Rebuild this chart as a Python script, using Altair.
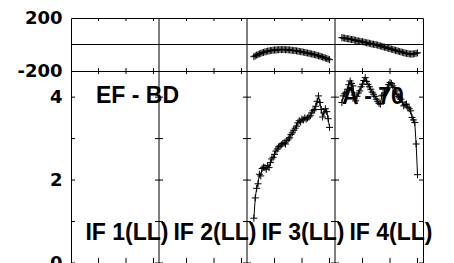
import altair as alt
import pandas as pd

# ---- data ----
IF_LABELS = ["IF 1(LL)", "IF 2(LL)", "IF 3(LL)", "IF 4(LL)"]
N_CHAN = 64
CHANNELS = list(range(5, 61))          # channels with data (56)
BASELINE = "EF - BD"
SOURCE = "A - 70"

IF3_AMP = [1.08, 1.57, 1.80, 1.91, 2.14, 2.10, 2.28, 2.31, 2.30, 2.26,
           2.35, 2.30, 2.42, 2.51, 2.55, 2.62, 2.70, 2.75, 2.80, 2.82,
           2.85, 2.88, 2.90, 2.87, 2.95, 2.99, 3.02, 3.10, 3.14, 3.20,
           3.25, 3.30, 3.38, 3.43, 3.40, 3.47, 3.45, 3.50, 3.47, 3.50,
           3.52, 3.55, 3.62, 3.67, 3.70, 3.78, 3.90, 4.03, 3.87, 3.70,
           3.52, 3.62, 3.72, 3.65, 3.48, 3.27]
IF4_AMP = [3.87, 4.03, 4.08, 4.12, 4.19, 4.30, 4.39, 4.33, 4.27, 4.05,
           3.91, 4.02, 4.10, 4.15, 4.25, 4.31, 4.40, 4.47, 4.38, 4.31,
           4.25, 4.19, 4.12, 4.07, 4.02, 3.95, 3.90, 3.85, 3.83, 4.03,
           4.05, 4.10, 4.15, 4.22, 4.30, 4.35, 4.33, 4.27, 4.23, 4.15,
           4.07, 4.02, 3.98, 3.95, 3.88, 3.79, 3.82, 3.83, 3.76, 3.72,
           3.67, 3.51, 3.45, 3.39, 2.87, 2.13]
IF3_PHASE = [-92, -86, -80, -76, -70, -67, -62, -60, -56, -54,
             -50, -49, -46, -45, -43, -41, -42, -39, -40, -37,
             -39, -38, -37, -40, -39, -41, -40, -43, -44, -46,
             -45, -48, -50, -52, -54, -55, -58, -60, -62, -64,
             -66, -69, -71, -74, -76, -79, -82, -85, -88, -91,
             -95, -98, -102, -106, -110, -115]
IF4_PHASE = [52, 50, 48, 45, 44, 42, 40, 38, 37, 34,
             31, 29, 27, 25, 22, 21, 18, 16, 13, 11,
             9, 6, 3, 2, 0, -2, -5, -8, -11, -14,
             -17, -20, -23, -26, -29, -32, -35, -38, -41, -44,
             -47, -50, -53, -56, -59, -62, -65, -67, -69, -71,
             -72, -72, -71, -69, -66, -63]

PHASE_DOMAIN = [-200, 200]
PHASE_LABELS = [-200, 200]
AMP_DOMAIN = [0, 4.63]
AMP_LABELS = [0, 2, 4]
AMP_TICKS = [0, 1, 2, 3, 4]
CHAN_TICKS = [20, 40, 60]

# ---- tables built from the arrays ----
rows = []
for k, amp, ph in [(2, IF3_AMP, IF3_PHASE), (3, IF4_AMP, IF4_PHASE)]:
    for c, a, p in zip(CHANNELS, amp, ph):
        rows.append({"x": k * N_CHAN + c, "amp": a, "phase": p, "band": IF_LABELS[k]})
df = pd.DataFrame(rows)

n_if = len(IF_LABELS)
dividers = pd.DataFrame({"bx": [k * N_CHAN for k in range(1, n_if)]})
xticks = pd.DataFrame({"tx": [k * N_CHAN + t for k in range(n_if) for t in CHAN_TICKS]})
left_ticks = pd.DataFrame([{"bx": k * N_CHAN, "v": v} for k in range(n_if) for v in AMP_TICKS])
right_ticks = pd.DataFrame([{"bx": (k + 1) * N_CHAN, "v": v} for k in range(n_if) for v in AMP_TICKS])
labels_df = pd.DataFrame({"cx": [k * N_CHAN + N_CHAN / 2 for k in range(n_if)], "label": IF_LABELS})

W = 352
H_TOP = 53
H_BOT = 192

xscale = alt.Scale(domain=[0, n_if * N_CHAN], nice=False, zero=False)
X = alt.X("x:Q", scale=xscale, axis=None)

CROSS = "M-1,0L1,0M0,-1L0,1"

def yaxis(vals):
    return alt.Axis(values=vals, ticks=False, tickSize=0, domain=False, grid=False,
                    labelExpr="'' + datum.value",
                    labelFont="DejaVu Sans", labelFontWeight="bold", labelFontSize=18,
                    labelColor="black", labelPadding=9, labelFlush=False, title=None)

# ---- top panel: phase ----
ys_top = alt.Scale(domain=PHASE_DOMAIN, nice=False, zero=False)
base_top = alt.Chart(df)
top_line = base_top.mark_line(color="black", strokeWidth=1).encode(
    x=X, y=alt.Y("phase:Q", scale=ys_top, axis=yaxis(PHASE_LABELS)), detail="band:N")
top_pts = base_top.mark_point(shape=CROSS, size=49, filled=False, stroke="black",
                              strokeWidth=1, opacity=1).encode(
    x=X, y=alt.Y("phase:Q", scale=ys_top))
zero_rule = alt.Chart(pd.DataFrame({"z": [0]})).mark_rule(color="black", strokeWidth=1).encode(
    y=alt.Y("z:Q", scale=ys_top))
top_div = alt.Chart(dividers).mark_rule(color="black", strokeWidth=1).encode(
    x=alt.X("bx:Q", scale=xscale, axis=None))
top_t1 = alt.Chart(xticks).mark_rule(color="black", strokeWidth=1).encode(
    x=alt.X("tx:Q", scale=xscale, axis=None), y=alt.value(0), y2=alt.value(3))
top_t2 = alt.Chart(xticks).mark_rule(color="black", strokeWidth=1).encode(
    x=alt.X("tx:Q", scale=xscale, axis=None), y=alt.value(H_TOP), y2=alt.value(H_TOP - 3))

top = alt.layer(zero_rule, top_div, top_t1, top_t2, top_line, top_pts).properties(
    width=W, height=H_TOP)

# ---- bottom panel: amplitude ----
ys_bot = alt.Scale(domain=AMP_DOMAIN, nice=False, zero=False)
base_bot = alt.Chart(df)
bot_line = base_bot.mark_line(color="black", strokeWidth=1).encode(
    x=X, y=alt.Y("amp:Q", scale=ys_bot, axis=yaxis(AMP_LABELS)), detail="band:N")
bot_pts = base_bot.mark_point(shape=CROSS, size=49, filled=False, stroke="black",
                              strokeWidth=1, opacity=1).encode(
    x=X, y=alt.Y("amp:Q", scale=ys_bot))
bot_div = alt.Chart(dividers).mark_rule(color="black", strokeWidth=1).encode(
    x=alt.X("bx:Q", scale=xscale, axis=None))
bot_t1 = alt.Chart(xticks).mark_rule(color="black", strokeWidth=1).encode(
    x=alt.X("tx:Q", scale=xscale, axis=None), y=alt.value(0), y2=alt.value(3))
bot_t2 = alt.Chart(xticks).mark_rule(color="black", strokeWidth=1).encode(
    x=alt.X("tx:Q", scale=xscale, axis=None), y=alt.value(H_BOT), y2=alt.value(H_BOT - 5))
lt = alt.Chart(left_ticks).mark_rule(color="black", strokeWidth=1, x2Offset=4).encode(
    x=alt.X("bx:Q", scale=xscale, axis=None), x2=alt.X2("bx"),
    y=alt.Y("v:Q", scale=ys_bot))
rt = alt.Chart(right_ticks).mark_rule(color="black", strokeWidth=1, x2Offset=-4).encode(
    x=alt.X("bx:Q", scale=xscale, axis=None), x2=alt.X2("bx"),
    y=alt.Y("v:Q", scale=ys_bot))
if_text = alt.Chart(labels_df).mark_text(font="Liberation Sans", fontWeight="bold",
                                         fontSize=23, align="center", baseline="alphabetic",
                                         dx=12, color="black").encode(
    x=alt.X("cx:Q", scale=xscale, axis=None), y=alt.value(169), text="label:N")
bl_text = alt.Chart(pd.DataFrame({"t": [BASELINE]})).mark_text(
    font="Liberation Sans", fontWeight="bold", fontSize=23, align="left",
    baseline="alphabetic", color="black").encode(x=alt.value(25), y=alt.value(32), text="t:N")
src_text = alt.Chart(pd.DataFrame({"t": [SOURCE]})).mark_text(
    font="Liberation Sans", fontWeight="bold", fontSize=23, align="left",
    baseline="alphabetic", color="black").encode(x=alt.value(271), y=alt.value(33), text="t:N")

bottom = alt.layer(bot_div, bot_t1, bot_t2, lt, rt, bl_text, src_text, if_text,
                   bot_line, bot_pts).properties(width=W, height=H_BOT)

chart = alt.vconcat(top, bottom, spacing=0, bounds="flush").properties(
    padding={"left": 8, "top": 0, "right": 5, "bottom": 0},
    background="white",
).configure_view(stroke="black", strokeWidth=1)

chart.save("out.html", embed_options={"renderer": "svg", "actions": False})
